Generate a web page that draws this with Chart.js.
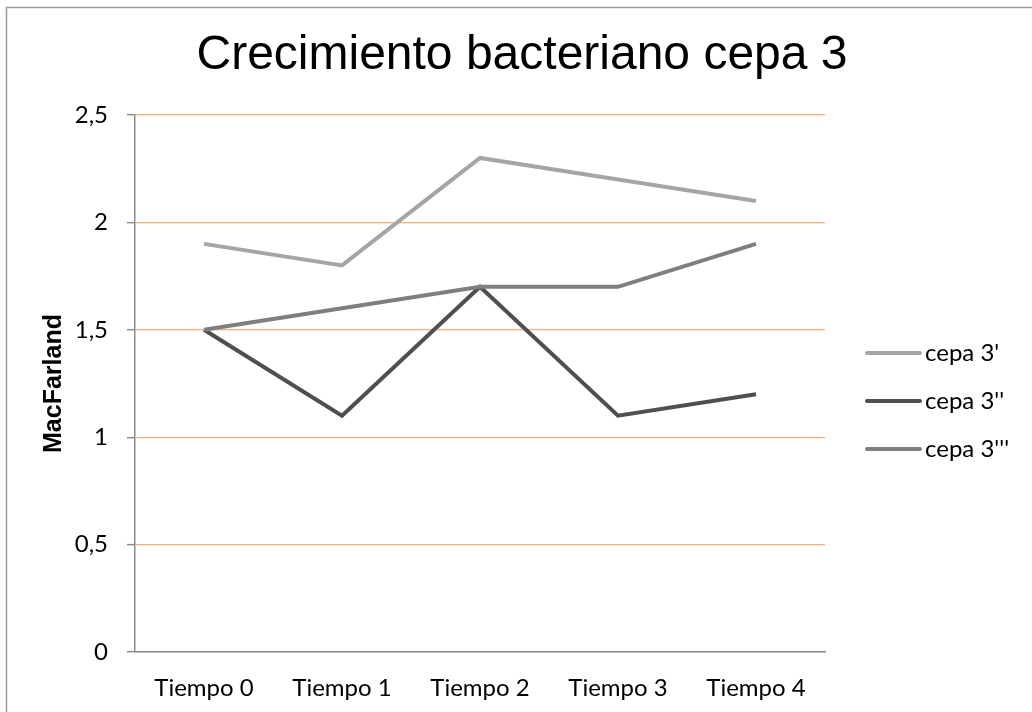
<!DOCTYPE html>
<html>
<head>
<meta charset="utf-8">
<script src="https://cdn.jsdelivr.net/npm/chart.js@4"></script>
<style>
  html, body { margin: 0; padding: 0; background: #fff; }
  #wrap { width: 1032px; height: 712px; }
</style>
</head>
<body>
<div id="wrap"><canvas id="c" width="1032" height="712"></canvas></div>
<script>
const titleText = "Crecimiento bacteriano cepa 3";
const yAxisTitle = "MacFarland";
const categories = ["Tiempo 0", "Tiempo 1", "Tiempo 2", "Tiempo 3", "Tiempo 4"];
const seriesNames = ["cepa 3'", "cepa 3''", "cepa 3'''"];
const cepa3a = [1.9, 1.8, 2.3, 2.2, 2.1];
const cepa3b = [1.5, 1.1, 1.7, 1.1, 1.2];
const cepa3c = [1.5, 1.6, 1.7, 1.7, 1.9];
const yTicks = [0, 0.5, 1, 1.5, 2, 2.5];
const seriesColors = ["#a5a5a5", "#4f4f4f", "#7f7f7f"];

const tickFont = { family: "Lato", size: 24 };

const frame = {
  id: 'frame',
  beforeDraw(chart) {
    const ctx = chart.ctx;
    ctx.save();
    ctx.fillStyle = '#fff';
    ctx.fillRect(0, 0, chart.width, chart.height);
    ctx.strokeStyle = '#9a9a9a';
    ctx.lineWidth = 1.5;
    ctx.strokeRect(6.5, 7.5, 1200, 900);
    ctx.restore();
  },
  afterDraw(chart) {
    const ctx = chart.ctx;
    ctx.save();
    ctx.fillStyle = '#000';
    ctx.font = "48px 'Liberation Sans'";
    ctx.textAlign = 'center';
    ctx.textBaseline = 'middle';
    ctx.fillText(titleText, 522, 56);
    ctx.restore();
  }
};

const sideLegend = {
  id: 'sideLegend',
  afterDraw(chart) {
    const ctx = chart.ctx;
    ctx.save();
    const x0 = 867, x1 = 920, tx = 925;
    const ys = [353, 401, 449];
    chart.data.datasets.forEach((ds, i) => {
      ctx.strokeStyle = ds.borderColor;
      ctx.lineWidth = 4;
      ctx.lineCap = 'round';
      ctx.beginPath();
      ctx.moveTo(x0, ys[i]);
      ctx.lineTo(x1, ys[i]);
      ctx.stroke();
      ctx.fillStyle = '#000';
      ctx.font = "24px Lato";
      ctx.textBaseline = 'middle';
      ctx.textAlign = 'left';
      ctx.fillText(ds.label, tx, ys[i]);
    });
    ctx.restore();
  }
};

const seriesData = [cepa3a, cepa3b, cepa3c];
const orders = [3, 2, 1];

new Chart(document.getElementById('c'), {
  type: 'line',
  data: {
    labels: categories,
    datasets: seriesNames.map((name, i) => ({
      label: name,
      data: seriesData[i],
      borderColor: seriesColors[i],
      backgroundColor: seriesColors[i],
      borderWidth: 4,
      pointRadius: 0,
      tension: 0,
      fill: false,
      order: orders[i]
    }))
  },
  options: {
    responsive: false,
    animation: false,
    layout: { padding: { left: 0, right: 207, top: 115, bottom: 0 } },
    plugins: {
      legend: { display: false },
      tooltip: { enabled: false },
      title: { display: false }
    },
    scales: {
      x: {
        offset: true,
        grid: { display: false, drawTicks: false, tickLength: 0 },
        border: { display: true, color: '#8c8c8c', width: 1.5 },
        ticks: { color: '#000', font: tickFont, padding: 22, maxRotation: 0, autoSkip: false },
        afterFit(s) { s.height = 60; }
      },
      y: {
        min: 0,
        max: 2.5,
        afterBuildTicks(s) { s.ticks = yTicks.map(v => ({ value: v })); },
        grid: { color: '#f6ad76', lineWidth: 1.3, drawTicks: true, tickLength: 8, tickColor: '#8c8c8c', tickWidth: 1.5 },
        border: { display: true, color: '#8c8c8c', width: 1.5 },
        ticks: {
          color: '#000', font: tickFont, padding: 19,
          callback: v => String(v).replace('.', ',')
        },
        title: {
          display: true,
          text: yAxisTitle,
          color: '#000',
          font: { family: "Liberation Sans", size: 25, weight: 'bold', lineHeight: 1.2 },
          padding: { top: 39, bottom: 0 }
        },
        afterFit(s) { s.width = 135; }
      }
    }
  },
  plugins: [frame, sideLegend]
});
</script>
</body>
</html>
